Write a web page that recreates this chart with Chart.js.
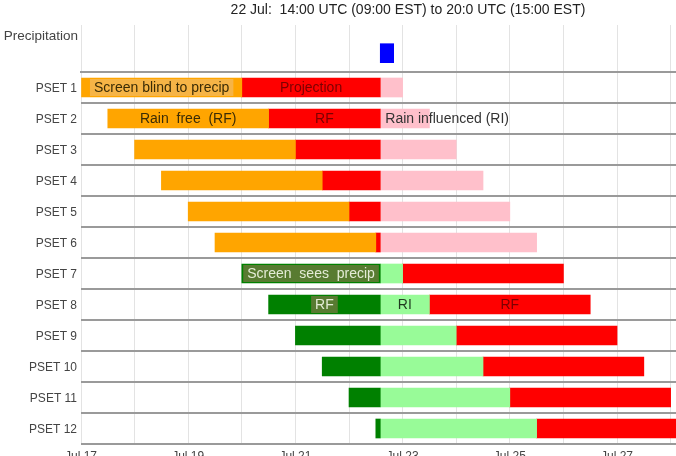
<!DOCTYPE html>
<html>
<head>
<title>PSET screen timeline</title>
<script src="https://cdn.jsdelivr.net/npm/chart.js"></script>
<style>
  html, body { margin: 0; padding: 0; background: #fff; overflow: hidden; }
  #wrap { position: relative; width: 676px; height: 456px; }
  #top-box { position: absolute; left: 0; top: 0; width: 676px; height: 73px; }
  #rows-box { position: absolute; left: 0; top: 70px; width: 676px; height: 400px; }
</style>
</head>
<body>
<div id="wrap">
  <div id="top-box"><canvas id="precip"></canvas></div>
  <div id="rows-box"><canvas id="psets"></canvas></div>
</div>

<script>
// x values are days counted from Jul 17 00:00 UTC
const titleText = '22 Jul:  14:00 UTC (09:00 EST) to 20:0 UTC (15:00 EST)';
const tickDays = [0, 1, 2, 3, 4, 5, 6, 7, 8, 9, 10, 11];
const tickLabels = ['Jul 17', '', 'Jul 19', '', 'Jul 21', '', 'Jul 23', '', 'Jul 25', '', 'Jul 27', ''];

// precipitation event: 22 Jul 14:00 -> 20:00
const precipStart = [5.583];
const precipEnd = [5.833];

const psetLabels = ['PSET 1', 'PSET 2', 'PSET 3', 'PSET 4', 'PSET 5', 'PSET 6',
                    'PSET 7', 'PSET 8', 'PSET 9', 'PSET 10', 'PSET 11', 'PSET 12'];
const seg1Start = [0, 0.5, 1, 1.5, 2, 2.5, 3, 3.5, 4, 4.5, 5, 5.5];
const seg1End   = [3, 3.5, 4, 4.5, 5, 5.5, 5.583, 5.583, 5.583, 5.583, 5.583, 5.583];
const seg2End   = [5.583, 5.583, 5.583, 5.583, 5.583, 5.583, 6, 6.5, 7, 7.5, 8, 8.5];
const seg3End   = [6, 6.5, 7, 7.5, 8, 8.5, 9, 9.5, 10, 10.5, 11, 11.5];

const seg1Colors = ['#ffa500', '#ffa500', '#ffa500', '#ffa500', '#ffa500', '#ffa500',
                    '#008000', '#008000', '#008000', '#008000', '#008000', '#008000'];
const seg2Colors = ['#ff0000', '#ff0000', '#ff0000', '#ff0000', '#ff0000', '#ff0000',
                    '#98fb98', '#98fb98', '#98fb98', '#98fb98', '#98fb98', '#98fb98'];
const seg3Colors = ['#ffc0cb', '#ffc0cb', '#ffc0cb', '#ffc0cb', '#ffc0cb', '#ffc0cb',
                    '#ff0000', '#ff0000', '#ff0000', '#ff0000', '#ff0000', '#ff0000'];

// text written on the bars: row index, segment index, text, look
const notes = [
  { row: 0, seg: 0, text: 'Screen blind to precip', look: 'boxOrange' },
  { row: 0, seg: 1, text: 'Projection', look: 'onRed' },
  { row: 1, seg: 0, text: 'Rain  free  (RF)', look: 'onOrange' },
  { row: 1, seg: 1, text: 'RF', look: 'onRed' },
  { row: 1, seg: 2, text: 'Rain influenced (RI)', look: 'after' },
  { row: 6, seg: 0, text: 'Screen  sees  precip', look: 'boxOlive' },
  { row: 7, seg: 0, text: 'RF', look: 'boxOlive' },
  { row: 7, seg: 1, text: 'RI', look: 'onPale' },
  { row: 7, seg: 2, text: 'RF', look: 'onRed' }
];
const looks = {
  boxOrange: { color: '#3b2c05', box: '#f6b446' },
  onOrange:  { color: '#3b2c05' },
  onRed:     { color: '#7c0000' },
  boxOlive:  { color: '#e4ecd6', box: '#587b31' },
  onPale:    { color: '#1f3a1f' },
  after:     { color: '#333333', left: true }
};

const FONT = '"Liberation Sans", Arial, sans-serif';
const tickFont = { family: FONT, size: 12 };
const gridColor = '#e3e3e3';
const rowLineColor = '#9a9a9a';
const dayMax = 11.1;

function fixedTicks(axis) {
  axis.ticks = tickDays.map(v => ({ value: v }));
}

// keep the y axis a fixed width and stop it from padding the plot area
function fixY(s) {
  s.width = 81;
  s.paddingTop = 0;
  s.paddingBottom = 0;
}

const titlePlugin = {
  id: 'titleText',
  afterDraw(chart) {
    const ctx = chart.ctx;
    ctx.save();
    ctx.font = '14px ' + FONT;
    ctx.fillStyle = '#222';
    ctx.textAlign = 'center';
    ctx.textBaseline = 'middle';
    ctx.fillText(titleText, 408, 10);
    ctx.restore();
  }
};

const notesPlugin = {
  id: 'barNotes',
  afterDatasetsDraw(chart) {
    const ctx = chart.ctx;
    ctx.save();
    ctx.font = '14px ' + FONT;
    ctx.textBaseline = 'middle';
    notes.forEach(n => {
      const el = chart.getDatasetMeta(n.seg).data[n.row];
      const p = el.getProps(['x', 'base', 'y', 'height'], true);
      const st = looks[n.look];
      const w = ctx.measureText(n.text).width;
      const cx = (p.x + p.base) / 2;
      if (st.left) {
        ctx.textAlign = 'left';
        ctx.fillStyle = st.color;
        ctx.fillText(n.text, Math.min(p.x, p.base) + 5, p.y + 1);
        return;
      }
      if (st.box) {
        ctx.fillStyle = st.box;
        ctx.fillRect(cx - w / 2 - 4, p.y - p.height / 2 + 1, w + 8, p.height - 2);
      }
      ctx.textAlign = 'center';
      ctx.fillStyle = st.color;
      ctx.fillText(n.text, cx, p.y + 1);
    });
    ctx.restore();
  }
};

new Chart(document.getElementById('precip'), {
  type: 'bar',
  data: {
    datasets: [{
      data: precipStart.map((s, i) => ({ x: [s, precipEnd[i]], y: 0.6 })),
      backgroundColor: '#0000ff',
      borderWidth: 0,
      barThickness: 19
    }]
  },
  options: {
    indexAxis: 'y',
    animation: false,
    responsive: true,
    maintainAspectRatio: false,
    layout: { padding: { top: 25, bottom: 1, left: 0, right: 0 } },
    plugins: { legend: { display: false }, tooltip: { enabled: false } },
    scales: {
      x: {
        type: 'linear', min: 0, max: dayMax,
        afterBuildTicks: fixedTicks,
        afterFit: s => { s.height = 0; s.paddingLeft = 0; s.paddingRight = 0; },
        ticks: { display: false },
        grid: { color: gridColor, drawTicks: false },
        border: { display: true, color: rowLineColor, width: 2 }
      },
      y: {
        type: 'linear', min: 0, max: 1, reverse: true, offset: false,
        afterBuildTicks: axis => { axis.ticks = [{ value: 0.25 }]; },
        afterFit: fixY,
        ticks: { callback: () => 'Precipitation', font: { family: FONT, size: 13.5 }, color: '#444', padding: 3 },
        grid: { display: false, drawTicks: false, offset: false },
        border: { display: false }
      }
    }
  },
  plugins: [titlePlugin]
});

const segData = (starts, ends) => starts.map((s, i) => [s, ends[i]]);

new Chart(document.getElementById('psets'), {
  type: 'bar',
  data: {
    labels: psetLabels,
    datasets: [
      { data: segData(seg1Start, seg1End), backgroundColor: seg1Colors },
      { data: segData(seg1End, seg2End), backgroundColor: seg2Colors },
      { data: segData(seg2End, seg3End), backgroundColor: seg3Colors }
    ]
  },
  options: {
    indexAxis: 'y',
    animation: false,
    responsive: true,
    maintainAspectRatio: false,
    layout: { padding: { top: 2, bottom: 0, left: 0, right: 0 } },
    datasets: { bar: { grouped: false, barThickness: 19, borderWidth: 0 } },
    plugins: { legend: { display: false }, tooltip: { enabled: false } },
    scales: {
      x: {
        type: 'linear', min: 0, max: dayMax,
        afterBuildTicks: fixedTicks,
        afterFit: s => { s.height = 26; s.paddingRight = 0; },
        ticks: {
          callback: (v, i) => tickLabels[i],
          font: tickFont, color: '#444', padding: 5,
          autoSkip: false, maxRotation: 0
        },
        grid: { color: gridColor, drawTicks: false },
        border: { display: false }
      },
      y: {
        type: 'category', offset: true,
        afterFit: fixY,
        ticks: { font: tickFont, color: '#444', padding: 4, labelOffset: 1.5 },
        grid: { offset: true, color: rowLineColor, lineWidth: 2, drawTicks: false },
        border: { display: false }
      }
    }
  },
  plugins: [notesPlugin]
});
</script>
</body>
</html>
